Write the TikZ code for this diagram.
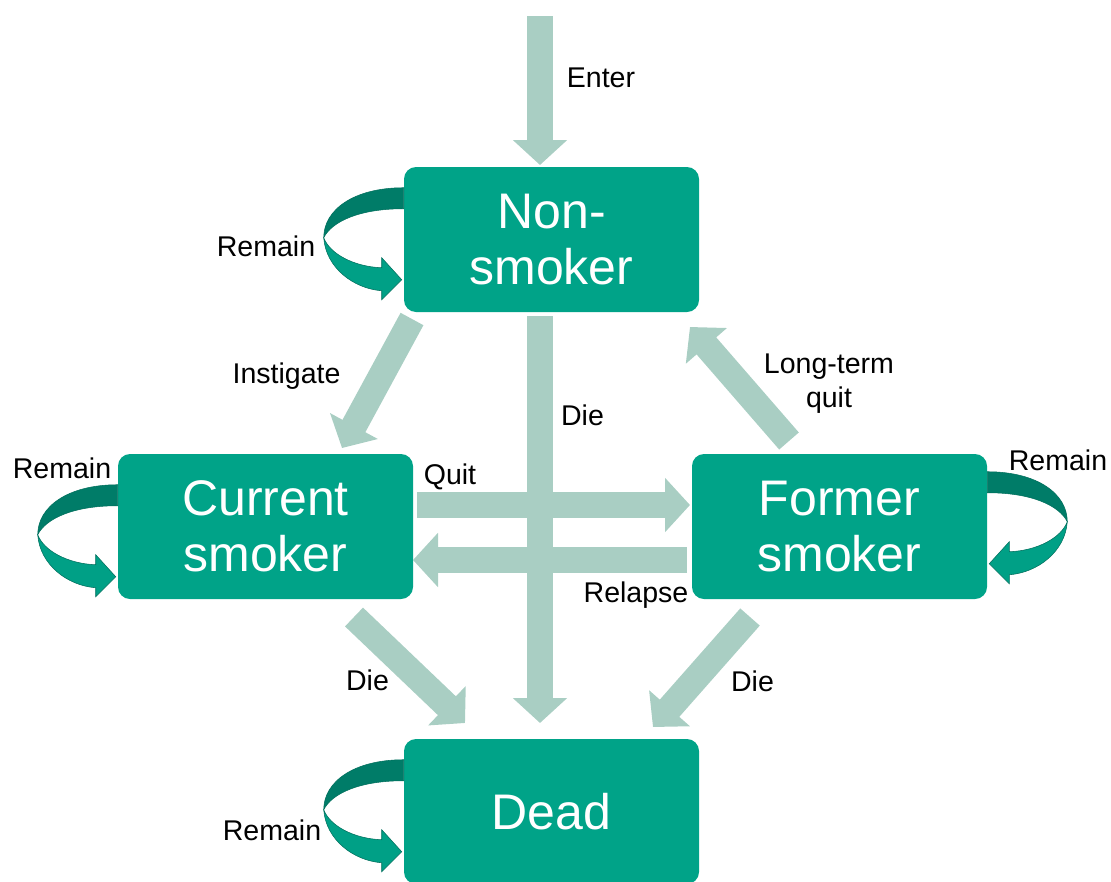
\documentclass[tikz,border=0pt]{standalone}
\usepackage{fontspec}
\setmainfont{Liberation Sans}
\usetikzlibrary{arrows.meta,calc}
\definecolor{boxc}{RGB}{0,163,136}
\definecolor{arrowc}{RGB}{169,206,195}
\definecolor{loopdark}{RGB}{0,124,104}
\definecolor{looplight}{RGB}{0,160,134}
\definecolor{loopedge}{RGB}{0,110,92}
\tikzset{
  statebox/.style={fill=boxc, rounded corners=9pt, minimum width=221.25pt, minimum height=108.75pt,
    inner sep=0pt, text=white, align=center, font=\fontsize{37.5}{42}\selectfont},
  lbl/.style={inner sep=0pt, text=black, align=center, font=\fontsize{21.4}{25.5}\selectfont},
  fat/.style={draw=arrowc, line width=19.5pt, -{Triangle[width=39.75pt,length=18.75pt]}},
  remainloop/.pic={
    \fill[loopdark, draw=loopedge, line width=0.4pt] (0,0) .. controls (-50,0) and (-80,22) .. (-80,50)
      .. controls (-72,34) and (-45,21) .. (0,21) -- cycle;
    \fill[looplight, draw=loopedge, line width=0.4pt] (-80,50) .. controls (-78,80) and (-50,101) .. (-22,103)
      -- (-22,112) -- (-2,92) -- (-22,70) -- (-22,80)
      .. controls (-50,79) and (-74,66) .. (-80,50) -- cycle;
  }
}
\begin{document}
\begin{tikzpicture}[x=0.75pt,y=-0.75pt]
\useasboundingbox (0,0) rectangle (1111,882);
\clip (0,0) rectangle (1111,882);

% named arrow ends
\coordinate (enterS) at (540,16);
\coordinate (enterE) at (540,165);
\coordinate (dieS) at (540,316);
\coordinate (dieE) at (540,723);
\coordinate (quitS) at (417,505);
\coordinate (quitE) at (690,505);
\coordinate (relS) at (687,560);
\coordinate (relE) at (413,560);
\coordinate (instS) at (412,319);
\coordinate (instE) at (342,448);
\coordinate (dcS) at (354,617);
\coordinate (dcE) at (465,723);
\coordinate (dfS) at (750,617);
\coordinate (dfE) at (653,727);
\coordinate (ltS) at (789,441);
\coordinate (ltE) at (690,327);

% fat arrows
\draw[fat] (enterS) -- (enterE);
\draw[fat] (quitS) -- (quitE);
\draw[fat] (relS) -- (relE);
\draw[fat] (dieS) -- (dieE);
\draw[fat] (instS) -- (instE);
\draw[fat] (dcS) -- (dcE);
\draw[fat] (dfS) -- (dfE);
\draw[fat] (ltS) -- (ltE);

% state boxes
\node[statebox] (ns) at (551.5,239.5) {Non-\\smoker};
\node[statebox] (cs) at (265.5,526.5) {Current\\smoker};
\node[statebox] (fs) at (839.5,526.5) {Former\\smoker};
\node[statebox] (dead) at (551.5,811.5) {Dead};

% remain loops
\pic at ($(ns.north west)+(0,21)$) {remainloop};
\pic at ($(cs.north west)+(0,31)$) {remainloop};
\pic at ($(dead.north west)+(0,21)$) {remainloop};
\pic[xscale=-1] at ($(fs.north east)+(0,18)$) {remainloop};

% labels
\node[lbl] (lenter) at (601,78) {Enter};
\node[lbl] (lrem1) at (266,246) {Remain};
\node[lbl] (linst) at (286.5,376) {Instigate};
\node[lbl] (ldie1) at (582.5,415) {Die};
\node[lbl] (llt) at (829,384) {Long-term\\quit};
\node[lbl] (lrem2) at (62,468) {Remain};
\node[lbl] (lquit) at (450,477) {Quit};
\node[lbl] (lrem3) at (1058,460) {Remain};
\node[lbl] (lrel) at (636,595) {Relapse};
\node[lbl] (ldie2) at (367.5,680) {Die};
\node[lbl] (ldie3) at (752.5,681) {Die};
\node[lbl] (lrem4) at (272,830) {Remain};
\end{tikzpicture}
\end{document}
